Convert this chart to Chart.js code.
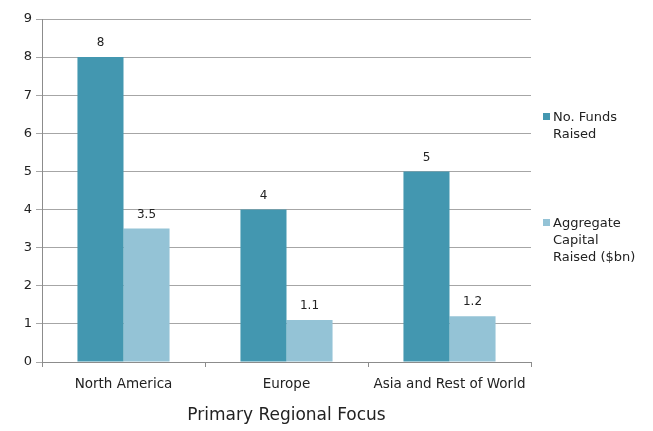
<!DOCTYPE html>
<html>
<head>
<meta charset="utf-8">
<script src="https://cdn.jsdelivr.net/npm/chart.js@4/dist/chart.umd.min.js"></script>
<style>
  body { margin: 0; background: #fff; }
  #wrap { position: relative; width: 653px; height: 431px; }
  .leg { position: absolute; left: 543px; font: 13px "DejaVu Sans", sans-serif; color: #222; line-height: 17px; }
  .leg i { position: absolute; left: 0; top: 5px; width: 7px; height: 7px; }
  .leg span { display: block; margin-left: 10px; }
</style>
</head>
<body>
<div id="wrap">
  <canvas id="regionChart" width="653" height="431"></canvas>
  <div class="leg" id="leg0" style="top:108px"><i></i><span></span></div>
  <div class="leg" id="leg1" style="top:214px"><i></i><span></span></div>
</div>
<script>
var regions = ['North America', 'Europe', 'Asia and Rest of World'];
var fundsRaised = [8, 4, 5];
var capitalRaised = [3.5, 1.1, 1.2];
var seriesNames = [['No. Funds', 'Raised'], ['Aggregate', 'Capital', 'Raised ($bn)']];
var colors = ['#4397b0', '#94c3d6'];
var axisTitle = 'Primary Regional Focus';

// value labels over each bar
var barLabels = {
    id: 'barLabels',
    afterDatasetsDraw: function (chart) {
        var ctx = chart.ctx;
        ctx.save();
        ctx.font = '12px "DejaVu Sans"';
        ctx.fillStyle = '#222';
        ctx.textAlign = 'center';
        ctx.textBaseline = 'middle';
        chart.data.datasets.forEach(function (ds, i) {
            chart.getDatasetMeta(i).data.forEach(function (bar, j) {
                ctx.fillText(ds.data[j], bar.x, bar.y - 14);
            });
        });
        ctx.restore();
    }
};

var regionChart = new Chart("regionChart", {
    type: "bar",
    data: {
        labels: regions,
        datasets: [{
            label: seriesNames[0].join(' '),
            data: fundsRaised,
            backgroundColor: colors[0]
        }, {
            label: seriesNames[1].join(' '),
            data: capitalRaised,
            backgroundColor: colors[1]
        }]
    },
    options: {
        responsive: false,
        animation: false,
        layout: { padding: { top: 19, right: 122, bottom: 0, left: 0 } },
        datasets: { bar: { categoryPercentage: 0.565, barPercentage: 1.0 } },
        plugins: {
            legend: { display: false },
            tooltip: { enabled: false }
        },
        scales: {
            x: {
                grid: { offset: true, drawOnChartArea: false, color: '#8c8c8c', tickLength: 5 },
                border: { color: '#8c8c8c' },
                ticks: { color: '#222', font: { family: 'DejaVu Sans', size: 13.5 }, padding: 9 },
                title: {
                    display: true,
                    text: axisTitle,
                    color: '#222',
                    font: { family: 'DejaVu Sans', size: 17 },
                    padding: { top: 14, bottom: 5 }
                },
                afterFit: function (scale) { scale.height = 69; }
            },
            y: {
                min: 0,
                max: 9,
                ticks: { stepSize: 1, color: '#222', font: { family: 'DejaVu Sans', size: 13 }, padding: 4 },
                grid: { color: '#a6a6a6', tickLength: 6 },
                border: { color: '#8c8c8c' },
                afterFit: function (scale) { scale.width = 42; }
            }
        }
    },
    plugins: [barLabels]
});

// html legend
seriesNames.forEach(function (lines, i) {
    var el = document.getElementById('leg' + i);
    el.querySelector('i').style.background = colors[i];
    el.querySelector('span').innerHTML = lines.join('<br>');
});
</script>
</body>
</html>
